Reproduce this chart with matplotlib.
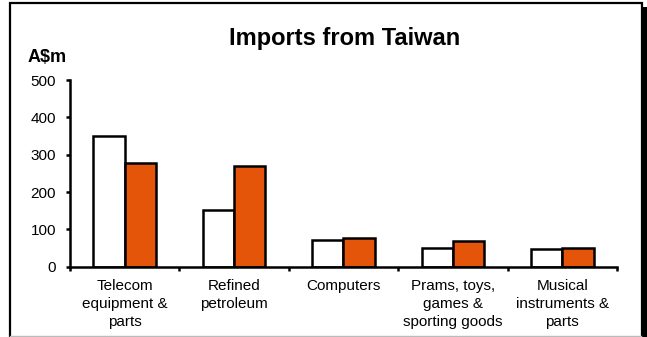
import numpy as np
import matplotlib
matplotlib.use("Agg")
import matplotlib.pyplot as plt
from matplotlib.patches import Rectangle
from matplotlib.lines import Line2D

plt.rcParams["font.family"] = ["Liberation Sans", "DejaVu Sans"]

# Données (A$m)
categories = ["Telecom\nequipment &\nparts", "Refined\npetroleum", "Computers",
              "Prams, toys,\ngames &\nsporting goods", "Musical\ninstruments &\nparts"]
white_values = [350, 152, 72, 49, 47]
orange_values = [277, 271, 78, 68, 50]

x = np.arange(len(categories))
width = 1 / 3.5  # gap width 150 % comme dans Excel

fig = plt.figure(figsize=(6.47, 3.37), dpi=100)
ax = fig.add_axes([0.1082, 0.2086, 0.8454, 0.554])

ax.bar(x - width / 2, white_values, width, color="white", edgecolor="black", linewidth=1.8)
ax.bar(x + width / 2, orange_values, width, color="#E4550A", edgecolor="black", linewidth=1.8)

ax.set_xlim(-0.5, len(categories) - 0.5)
ax.set_ylim(0, 500)
ax.set_yticks(np.arange(0, 501, 100))
ax.tick_params(axis="y", labelsize=11, length=3, width=1.8, direction="out", pad=7)

# ticks aux limites des catégories, libellés centrés
ax.set_xticks(np.arange(len(categories) + 1) - 0.5)
ax.set_xticklabels([])
ax.set_xticks(x, minor=True)
ax.set_xticklabels(categories, minor=True, fontsize=11, linespacing=1.37)
ax.tick_params(axis="x", which="major", length=3, width=1.8, direction="out")
ax.tick_params(axis="x", which="minor", length=0, pad=9)

for s in ["top", "right"]:
    ax.spines[s].set_visible(False)
ax.spines["left"].set_linewidth(1.8)
ax.spines["bottom"].set_linewidth(1.8)

fig.text(0.533, 0.866, "Imports from Taiwan", fontsize=17, fontweight="bold",
         ha="center", va="baseline")
fig.text(0.042, 0.816, "A$m", fontsize=13, fontweight="bold", ha="left", va="baseline")

# cadre avec ombre
fig.patches.append(Rectangle((0.9925, -0.1), 0.02, 1.08, transform=fig.transFigure,
                             facecolor="black", edgecolor="none"))
fig.patches.append(Rectangle((0.0162, -0.1), 0.9768, 1.091, transform=fig.transFigure,
                             facecolor="none", edgecolor="black", linewidth=1.6))
fig.lines.append(Line2D([0.0162, 0.99], [0.003, 0.003], transform=fig.transFigure,
                        color="#bbbbbb", linewidth=1))

fig.savefig("out.png", dpi=100)
